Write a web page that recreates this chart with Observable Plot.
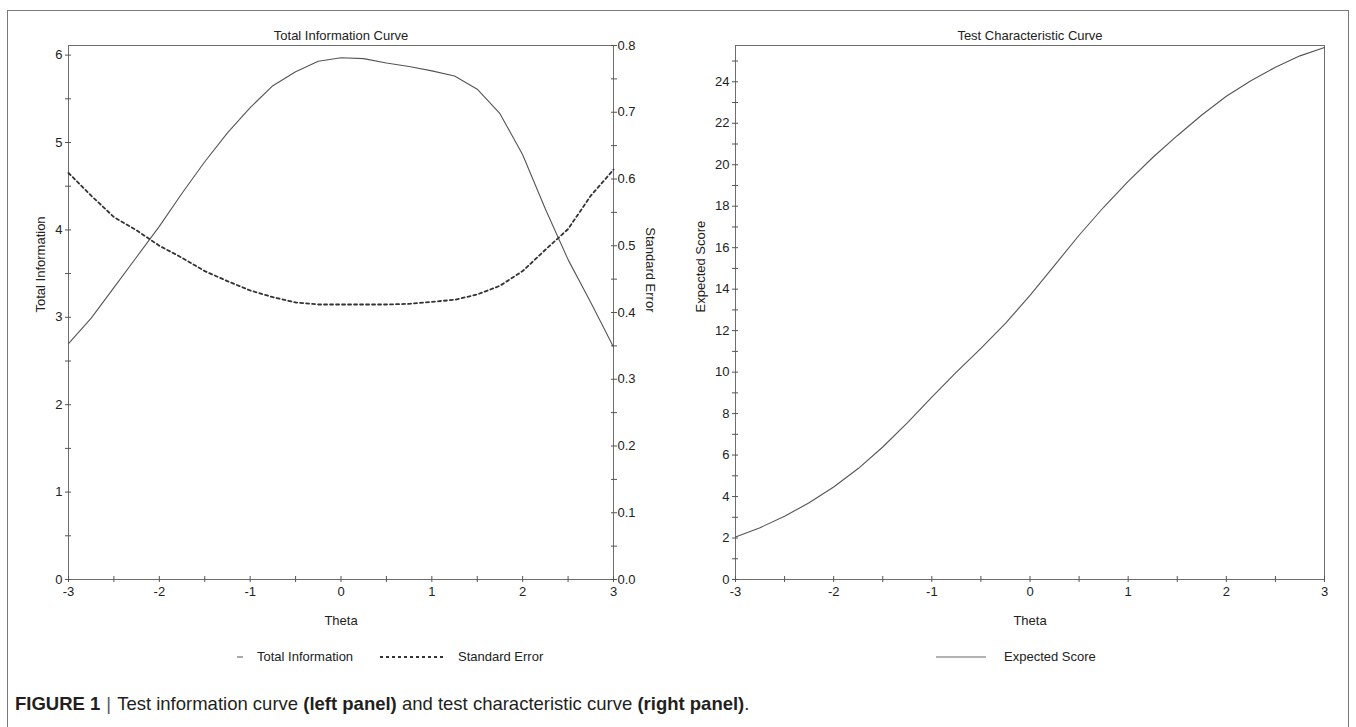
<!DOCTYPE html>
<html><head><meta charset="utf-8">
<script src="https://cdn.jsdelivr.net/npm/d3@7"></script>
<script src="https://cdn.jsdelivr.net/npm/@observablehq/plot@0.6"></script>
<style>
body{margin:0;background:#fff;font-family:"Liberation Sans",Arial,sans-serif;color:#222}
#wrap{position:relative;width:1356px;height:727px;overflow:hidden;background:#fff}
#border{position:absolute;left:7px;top:10px;width:1342px;height:760px;border:1px solid #7a7a7a;box-sizing:border-box}
.layer{position:absolute;top:0}
.leg{position:absolute;font-size:13px;white-space:nowrap;line-height:14px}
#caption{position:absolute;left:15px;top:693px;font-size:18.5px;white-space:nowrap;color:#231f20}
#caption b{font-weight:bold}
#caption .bar{color:#555;padding:0 6px}
</style></head>
<body><div id="wrap">
<div id="border"></div>
<div id="left1" class="layer" style="left:0"></div>
<div id="left2" class="layer" style="left:0"></div>
<div id="right1" class="layer" style="left:680px"></div>
<svg class="layer" width="1356" height="727" style="left:0;pointer-events:none">
  <line x1="237" x2="243" y1="657" y2="657" stroke="#555" stroke-width="1"/>
  <line x1="380" x2="445" y1="657" y2="657" stroke="#333" stroke-width="1.8" stroke-dasharray="3,3"/>
  <line x1="936" x2="986" y1="657" y2="657" stroke="#666" stroke-width="1.2"/>
</svg>
<div class="leg" style="left:257px;top:650px">Total Information</div>
<div class="leg" style="left:458px;top:650px">Standard Error</div>
<div class="leg" style="left:1004px;top:650px">Expected Score</div>
<div id="caption"><b>FIGURE 1</b><span class="bar">|</span>Test information curve <b>(left panel)</b> and test characteristic curve <b>(right panel)</b>.</div>
</div>
<script>
const theta = [-3,-2.75,-2.5,-2.25,-2,-1.75,-1.5,-1.25,-1,-0.75,-0.5,-0.25,0,0.25,0.5,0.75,1,1.25,1.5,1.75,2,2.25,2.5,2.75,3];
const totalInformation = [2.70,2.99,3.34,3.69,4.04,4.42,4.78,5.11,5.40,5.65,5.81,5.93,5.97,5.96,5.91,5.87,5.82,5.76,5.61,5.33,4.86,4.24,3.66,3.17,2.66];
const standardError = [0.609,0.575,0.543,0.523,0.500,0.482,0.462,0.447,0.433,0.423,0.415,0.412,0.412,0.412,0.412,0.413,0.416,0.419,0.427,0.440,0.462,0.494,0.525,0.575,0.614];
const expectedScore = [2.05,2.5,3.05,3.7,4.46,5.35,6.39,7.55,8.8,10.0,11.15,12.35,13.7,15.15,16.6,17.95,19.2,20.35,21.4,22.4,23.3,24.05,24.7,25.25,25.65];

const thetaTicks = [-3,-2,-1,0,1,2,3];
const thetaMinor = [-3,-2.5,-2,-1.5,-1,-0.5,0,0.5,1,1.5,2,2.5,3];
const infoTicks = [0,1,2,3,4,5,6];
const infoMinor = [0,0.5,1,1.5,2,2.5,3,3.5,4,4.5,5,5.5,6];
const seTicks = [0,0.1,0.2,0.3,0.4,0.5,0.6,0.7,0.8];
const seMinor = [0,0.05,0.1,0.15,0.2,0.25,0.3,0.35,0.4,0.45,0.5,0.55,0.6,0.65,0.7,0.75,0.8];
const scoreTicks = [0,2,4,6,8,10,12,14,16,18,20,22,24];
const scoreMinor = [0,1,2,3,4,5,6,7,8,9,10,11,12,13,14,15,16,17,18,19,20,21,22,23,24,25];

const titles = ["Total Information Curve","Test Characteristic Curve"];
const xLabel = "Theta";
const yLabels = ["Total Information","Standard Error","Expected Score"];

const font = '"Liberation Sans", Arial, sans-serif';
const infoData = theta.map((t,i)=>({theta:t, value:totalInformation[i]}));
const seData = theta.map((t,i)=>({theta:t, value:standardError[i]}));
const scoreData = theta.map((t,i)=>({theta:t, value:expectedScore[i]}));
const fmt = d => String(d);
const blank = () => "";
const axisColor = "#555";
const lineColor = "#555";

const baseStyle = {fontFamily:font, fontSize:"13px", color:"#222", background:"transparent", overflow:"visible"};

const leftCommon = {width:680, height:640, marginLeft:68, marginRight:67, marginTop:45, marginBottom:61, style:baseStyle};

const left1 = Plot.plot({
  ...leftCommon,
  x:{domain:[-3,3]},
  y:{domain:[0,6.11]},
  marks:[
    Plot.frame({stroke:"#6e6e6e"}),
    Plot.axisX({ticks:thetaMinor, tickSize:6, dy:-3, tickFormat:blank, label:null, stroke:axisColor}),
    Plot.axisX({ticks:thetaTicks, tickSize:0, tickPadding:7, tickFormat:fmt, label:null, fill:"#222"}),
    Plot.axisY({ticks:infoMinor, tickSize:6, dx:3, tickFormat:blank, label:null, stroke:axisColor}),
    Plot.axisY({ticks:infoTicks, tickSize:0, tickPadding:6, tickFormat:fmt, label:null, fill:"#222"}),
    Plot.line(infoData, {x:"theta", y:"value", stroke:lineColor, strokeWidth:1.1}),
    Plot.text([titles[0]], {text:d=>d, frameAnchor:"top", dy:-10, lineAnchor:"middle", fill:"#222"}),
    Plot.text([xLabel], {text:d=>d, frameAnchor:"bottom", dy:41, lineAnchor:"middle", fill:"#222"}),
    Plot.text([yLabels[0]], {text:d=>d, frameAnchor:"left", dx:-28, rotate:-90, fill:"#222"})
  ]
});
document.getElementById("left1").append(left1);

const left2 = Plot.plot({
  ...leftCommon,
  x:{domain:[-3,3], axis:null},
  y:{domain:[0,0.8]},
  marks:[
    Plot.axisY({anchor:"right", ticks:seMinor, tickSize:6, dx:-3, tickFormat:blank, label:null, stroke:axisColor}),
    Plot.axisY({anchor:"right", ticks:seTicks, tickSize:0, tickPadding:4, tickFormat:d=>d.toFixed(1), label:null, fill:"#222"}),
    Plot.line(seData, {x:"theta", y:"value", stroke:"#333", strokeWidth:1.8, strokeDasharray:"3,3"}),
    Plot.text([yLabels[1]], {text:d=>d, frameAnchor:"right", dx:37, rotate:90, fill:"#222"})
  ]
});
document.getElementById("left2").append(left2);

const right1 = Plot.plot({
  width:676, height:640, marginLeft:55, marginRight:32, marginTop:45, marginBottom:61, style:baseStyle,
  x:{domain:[-3,3]},
  y:{domain:[0,25.75]},
  marks:[
    Plot.frame({stroke:"#6e6e6e"}),
    Plot.axisX({ticks:thetaMinor, tickSize:6, dy:-3, tickFormat:blank, label:null, stroke:axisColor}),
    Plot.axisX({ticks:thetaTicks, tickSize:0, tickPadding:7, tickFormat:fmt, label:null, fill:"#222"}),
    Plot.axisY({ticks:scoreMinor, tickSize:6, dx:3, tickFormat:blank, label:null, stroke:axisColor}),
    Plot.axisY({ticks:scoreTicks, tickSize:0, tickPadding:6, tickFormat:fmt, label:null, fill:"#222"}),
    Plot.line(scoreData, {x:"theta", y:"value", stroke:lineColor, strokeWidth:1.1}),
    Plot.text([titles[1]], {text:d=>d, frameAnchor:"top", dy:-10, lineAnchor:"middle", fill:"#222"}),
    Plot.text([xLabel], {text:d=>d, frameAnchor:"bottom", dy:41, lineAnchor:"middle", fill:"#222"}),
    Plot.text([yLabels[2]], {text:d=>d, frameAnchor:"left", dx:-35, rotate:-90, fill:"#222"})
  ]
});
document.getElementById("right1").append(right1);
</script>
</body></html>
